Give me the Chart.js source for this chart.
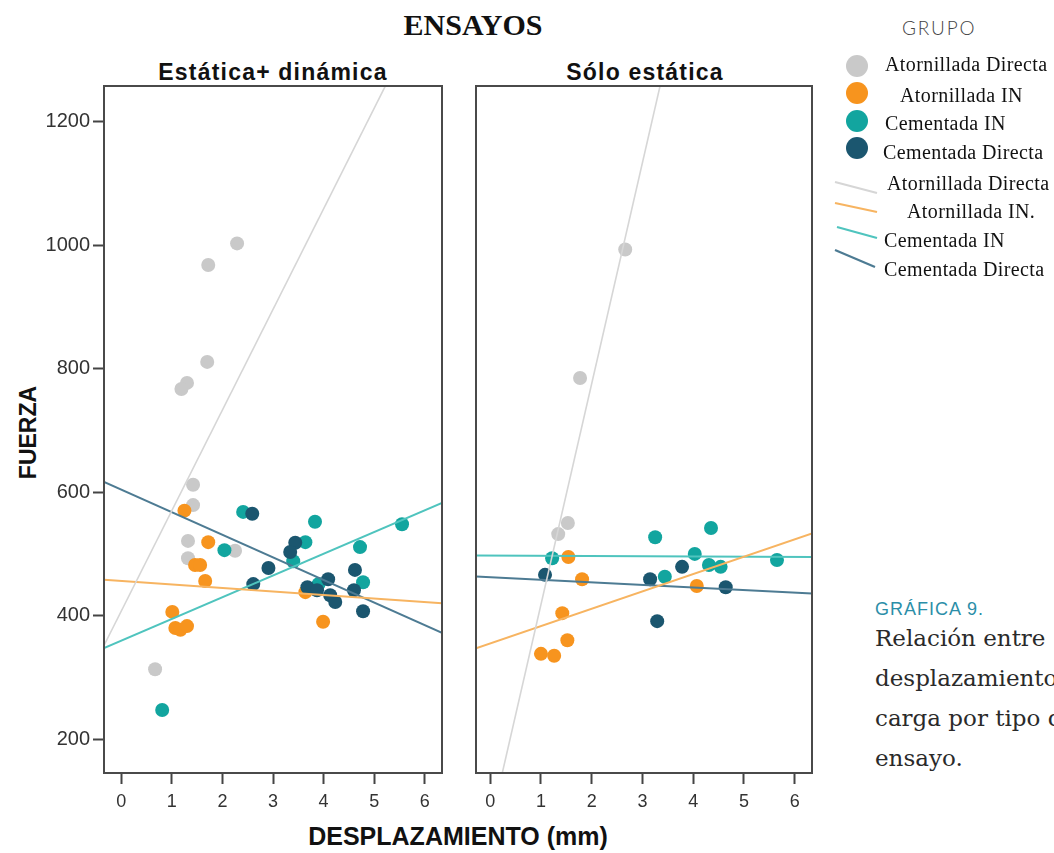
<!DOCTYPE html>
<html lang="es">
<head>
<meta charset="utf-8">
<title>ENSAYOS</title>
<script src="https://cdn.jsdelivr.net/npm/chart.js@4/dist/chart.umd.min.js"></script>
<style>
  html, body { margin: 0; padding: 0; background: #fff; }
  body { width: 1054px; height: 853px; position: relative; overflow: hidden; }
  .abs { position: absolute; white-space: nowrap; }
  canvas { position: absolute; }
  #ttl { left: 323px; width: 300px; top: 10px; text-align: center; font: bold 30px/30px "Liberation Serif", "Times New Roman", serif; color: #111; }
  .ptitle { top: 61px; width: 338px; text-align: center; font: bold 23px/23px "Liberation Sans", Arial, sans-serif; letter-spacing: 1.2px; color: #111; }
  #ylab { left: -72px; top: 421px; width: 200px; text-align: center; transform: rotate(-90deg); font: bold 23px/23px "Liberation Sans", Arial, sans-serif; color: #111; }
  #xlab { left: 258px; width: 400px; top: 824px; text-align: center; font: bold 25px/25px "Liberation Sans", Arial, sans-serif; color: #111; }
  #grupo { left: 902px; top: 18px; font: 300 19px/19px Lato, "Open Sans", sans-serif; letter-spacing: 1.8px; color: #444; }
  .leg { font: 20px/20px "Liberation Serif", "Times New Roman", serif; letter-spacing: 0.4px; color: #111; }
  #capnum { left: 875px; top: 600px; font: 18px/18px "Liberation Sans Narrow", "Liberation Sans", sans-serif; letter-spacing: 1px; color: #2b8ea8; }
  .cap { left: 875px; font: 23px/23px "DejaVu Serif", serif; color: #2a2a2a; }
</style>
</head>
<body>
<div id="ttl" class="abs">ENSAYOS</div>
<div class="abs ptitle" style="left:104px">Estática+ dinámica</div>
<div class="abs ptitle" style="left:476px">Sólo estática</div>
<div id="ylab" class="abs">FUERZA</div>
<div id="xlab" class="abs">DESPLAZAMIENTO (mm)</div>

<canvas id="cDin" width="460" height="853" style="left:0;top:0"></canvas>
<canvas id="cEst" width="370" height="853" style="left:456px;top:0"></canvas>

<div id="grupo" class="abs">GRUPO</div>
<svg class="abs" style="left:820px;top:40px" width="80" height="250" id="legsym"></svg>
<div id="legtext"></div>

<div id="capnum" class="abs">GRÁFICA 9.</div>
<div class="abs cap" style="top:627px">Relación entre</div>
<div class="abs cap" style="top:667px">desplazamiento y</div>
<div class="abs cap" style="top:707px">carga por tipo de</div>
<div class="abs cap" style="top:747px">ensayo.</div>

<script>
// ---- tick labels ----
const xTicks = [0, 1, 2, 3, 4, 5, 6];
const yTicks = [200, 400, 600, 800, 1000, 1200];

// ---- groups ----
const grupos = ['Atornillada Directa', 'Atornillada IN', 'Cementada IN', 'Cementada Directa'];
const lineLabels = ['Atornillada Directa', 'Atornillada IN.', 'Cementada IN', 'Cementada Directa'];
const pointColors = ['#c9c9c9', '#f7941e', '#12a59f', '#1b566f'];
const lineColors = ['#d6d6d6', '#f7b461', '#4fc4be', '#4d7b93'];

// ---- Estática+ dinámica: desplazamiento (mm) / fuerza ----
const dinAtDirX = [2.29, 1.72, 1.70, 1.30, 1.19, 1.42, 1.42, 1.32, 1.32, 2.25, 0.67];
const dinAtDirY = [1003, 968, 811, 777, 767, 612, 579, 521, 493, 505, 313];
const dinAtInX  = [1.25, 1.72, 1.46, 1.56, 1.66, 1.01, 1.07, 1.17, 1.30, 3.64, 3.99];
const dinAtInY  = [570, 519, 482, 482, 456, 406, 380, 377, 383, 438, 390];
const dinCeInX  = [2.04, 0.81, 2.41, 3.83, 3.64, 3.40, 4.72, 4.78, 5.55, 3.90];
const dinCeInY  = [506, 247, 568, 552, 519, 488, 511, 454, 548, 451];
const dinCeDirX = [2.59, 3.44, 3.34, 2.91, 2.61, 3.68, 3.87, 4.09, 4.13, 4.23, 4.62, 4.60, 4.78];
const dinCeDirY = [565, 518, 503, 477, 451, 446, 441, 459, 433, 422, 474, 441, 407];
// linear fit per group: fuerza = a + b * desplazamiento
const dinFitA = [407, 456, 359.5, 604];
const dinFitB = [163, -5.7, 35.2, -36.6];

// ---- Sólo estática ----
const estAtDirX = [2.66, 1.77, 1.53, 1.34];
const estAtDirY = [993, 785, 550, 532];
const estAtInX  = [1.54, 1.81, 1.42, 1.52, 1.00, 1.26, 4.07];
const estAtInY  = [495, 459, 404, 360, 338, 335, 448];
const estCeInX  = [1.22, 3.25, 4.03, 4.35, 4.31, 4.54, 3.44, 5.65];
const estCeInY  = [493, 527, 500, 542, 482, 479, 463, 490];
const estCeDirX = [1.08, 3.15, 3.78, 4.64, 3.29];
const estCeDirY = [466, 459, 479, 446, 391];
const estFitA = [60, 355, 497.3, 462];
const estFitB = [358, 28.1, -0.35, -4.1];

// axis ranges
const yMin = 145, yMax = 1258;
const dinXMin = -0.34, dinXMax = 6.34;
const estXMin = -0.28, estXMax = 6.34;

const pts = (xs, ys) => xs.map((x, i) => ({ x, y: ys[i] }));

function buildDatasets(groupX, groupY, fitA, fitB, xMin, xMax) {
  const sets = [];
  // fitted lines, drawn above the points
  fitA.forEach((a, g) => {
    sets.push({
      type: 'line',
      label: lineLabels[g],
      data: [{ x: xMin, y: a + fitB[g] * xMin }, { x: xMax, y: a + fitB[g] * xMax }],
      borderColor: lineColors[g],
      borderWidth: g === 0 ? 1.6 : 2,
      pointRadius: 0,
      fill: false,
      order: 0
    });
  });
  // scatter points, navy on top, gray at the bottom
  groupX.forEach((xs, g) => {
    sets.push({
      type: 'scatter',
      label: grupos[g],
      data: pts(xs, groupY[g]),
      backgroundColor: pointColors[g],
      borderWidth: 0,
      pointRadius: 7,
      pointHoverRadius: 7,
      order: 4 - g + 1
    });
  });
  return sets;
}

// frame around the plot area
const framePlugin = {
  id: 'frame',
  afterDraw(chart) {
    const { ctx, chartArea: a } = chart;
    ctx.save();
    ctx.strokeStyle = '#4a4a4a';
    ctx.lineWidth = 2;
    ctx.strokeRect(a.left, a.top, a.right - a.left, a.bottom - a.top);
    ctx.restore();
  }
};

function makeOptions(xMin, xMax, showY, padding) {
  return {
    responsive: false,
    animation: false,
    events: [],
    layout: { padding },
    plugins: { legend: { display: false }, tooltip: { enabled: false }, title: { display: false } },
    scales: {
      x: {
        type: 'linear',
        min: xMin, max: xMax,
        afterBuildTicks: s => { s.ticks = xTicks.map(v => ({ value: v })); },
        afterFit: s => { s.height = 853 - 773; },
        border: { display: false },
        grid: { drawOnChartArea: false, drawTicks: true, tickLength: 11, tickWidth: 2, tickColor: '#444' },
        ticks: { padding: 7, color: '#333', callback: v => String(v), font: { family: '"Liberation Sans", Arial, sans-serif', size: 18 } }
      },
      y: {
        type: 'linear',
        display: showY,
        min: yMin, max: yMax,
        afterBuildTicks: s => { s.ticks = yTicks.map(v => ({ value: v })); },
        afterFit: s => { s.width = showY ? 104 : 0; },
        border: { display: false },
        grid: { drawOnChartArea: false, drawTicks: true, tickLength: 11, tickWidth: 2, tickColor: '#444' },
        ticks: { padding: 3, color: '#333', callback: v => String(v), font: { family: '"Liberation Sans", Arial, sans-serif', size: 20 } }
      }
    }
  };
}

new Chart(document.getElementById('cDin'), {
  type: 'scatter',
  data: { datasets: buildDatasets([dinAtDirX, dinAtInX, dinCeInX, dinCeDirX], [dinAtDirY, dinAtInY, dinCeInY, dinCeDirY], dinFitA, dinFitB, dinXMin, dinXMax) },
  options: makeOptions(dinXMin, dinXMax, true, { top: 86, right: 18, left: 0, bottom: 0 }),
  plugins: [framePlugin]
});

new Chart(document.getElementById('cEst'), {
  type: 'scatter',
  data: { datasets: buildDatasets([estAtDirX, estAtInX, estCeInX, estCeDirX], [estAtDirY, estAtInY, estCeInY, estCeDirY], estFitA, estFitB, estXMin, estXMax) },
  options: makeOptions(estXMin, estXMax, false, { top: 86, right: 14, left: 20, bottom: 0 }),
  plugins: [framePlugin]
});

// ---- legend: GRUPO ----
const legPointRows = [66, 93, 121, 148];
const legPointText = [65, 96, 124, 153];
const legTextLeft = [885, 900, 885, 883, 887, 907, 884, 884];
const legLineRows = [184, 212, 241, 270];
const legLineSeg = [[835, 182, 877, 193], [835, 203, 877, 212], [837, 227, 877, 238], [835, 250, 875, 267]];

const svgNS = 'http://www.w3.org/2000/svg';
const svg = document.getElementById('legsym');
const ox = 820, oy = 40;
legPointRows.forEach((cy, g) => {
  const c = document.createElementNS(svgNS, 'circle');
  c.setAttribute('cx', 857 - ox); c.setAttribute('cy', cy - oy); c.setAttribute('r', 11);
  c.setAttribute('fill', pointColors[g]);
  svg.appendChild(c);
});
legLineSeg.forEach((s, g) => {
  const l = document.createElementNS(svgNS, 'line');
  l.setAttribute('x1', s[0] - ox); l.setAttribute('y1', s[1] - oy);
  l.setAttribute('x2', s[2] - ox); l.setAttribute('y2', s[3] - oy);
  l.setAttribute('stroke', lineColors[g]); l.setAttribute('stroke-width', 2.2);
  svg.appendChild(l);
});
const legText = document.getElementById('legtext');
const allLabels = grupos.concat(lineLabels);
const allRows = legPointText.concat(legLineRows);
allLabels.forEach((t, i) => {
  const d = document.createElement('div');
  d.className = 'abs leg';
  d.style.left = legTextLeft[i] + 'px';
  d.style.top = (allRows[i] - 11) + 'px';
  d.textContent = t;
  legText.appendChild(d);
});
</script>
</body>
</html>
